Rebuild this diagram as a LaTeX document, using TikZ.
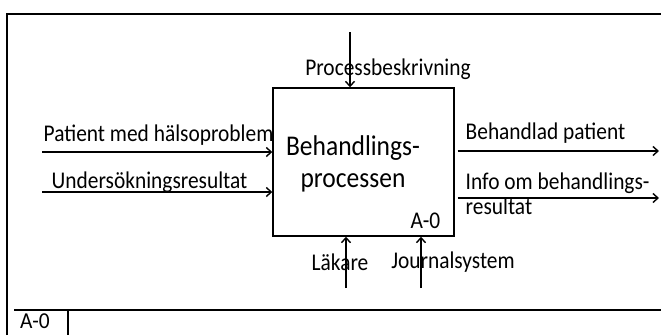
\documentclass[tikz,border=0pt]{standalone}
\usepackage{fontspec}
\setmainfont{Carlito}
\usepackage{tikz}
\usetikzlibrary{arrows.meta,positioning}

\begin{document}
\begin{tikzpicture}
	[x=1pt,y=-1pt,->,>={Straight Barb[length=5pt,width=9pt]},line width=1.4pt,
		lbl/.style={inner sep=0pt,yscale=1.12,transform shape,font=\fontsize{21.4}{22}\selectfont},
		box node/.style={draw,minimum width=181pt,minimum height=148pt,inner sep=0pt},
		frame/.style={-,line width=1.5pt}]

	\useasboundingbox (0,0) rectangle (661,335);

	\draw[frame] (7,335) -- (7,14) -- (661,14);
	\draw[frame] (14,310) -- (661,310);
	\draw[frame] (68,310) -- (68,335);
	\node[lbl,yscale=0.95] (nr) at (35,321.5) {A-0};

	\node[box node] (proc) at (363.5,162) {};
	\node[lbl,font=\fontsize{25.5}{28}\selectfont,align=center] (proctext) at (353,164) {Behandlings-\\processen};
	\node[lbl,anchor=east] (boxnr) at (441,221) {A-0};

	\coordinate (ctrl) at (350,32);
	\coordinate (in1) at (42,152);
	\coordinate (in2) at (42,192);
	\coordinate (out1) at (659,151);
	\coordinate (out2) at (659,198);
	\coordinate (mech1) at (346,288);
	\coordinate (mech2) at (421,288);

	\node[lbl] (ctrltext) at (388,69) {Processbeskrivning};
	\node[lbl,anchor=west] (in1text) at (43,135) {Patient med hälsoproblem};
	\node[lbl,anchor=west] (in2text) at (51,182) {Undersökningsresultat};
	\node[lbl,anchor=west] (out1text) at (465,133) {Behandlad patient};
	\node[lbl,anchor=west,align=left] (out2text) at (465,193.5) {Info om behandlings-\\resultat};
	\node[lbl] (mech1text) at (340,262) {Läkare};
	\node[lbl] (mech2text) at (453,262) {Journalsystem};

	\draw (ctrl) -- (ctrl |- proc.north);
	\draw (in1) -- (in1 -| proc.west);
	\draw (in2) -- (in2 -| proc.west);
	\draw ([xshift=3pt]proc.east |- out1) -- (out1);
	\draw ([xshift=3pt]proc.east |- out2) -- (out2);
	\draw (mech1) -- (mech1 |- proc.south);
	\draw (mech2) -- (mech2 |- proc.south);

\end{tikzpicture}
\end{document}
